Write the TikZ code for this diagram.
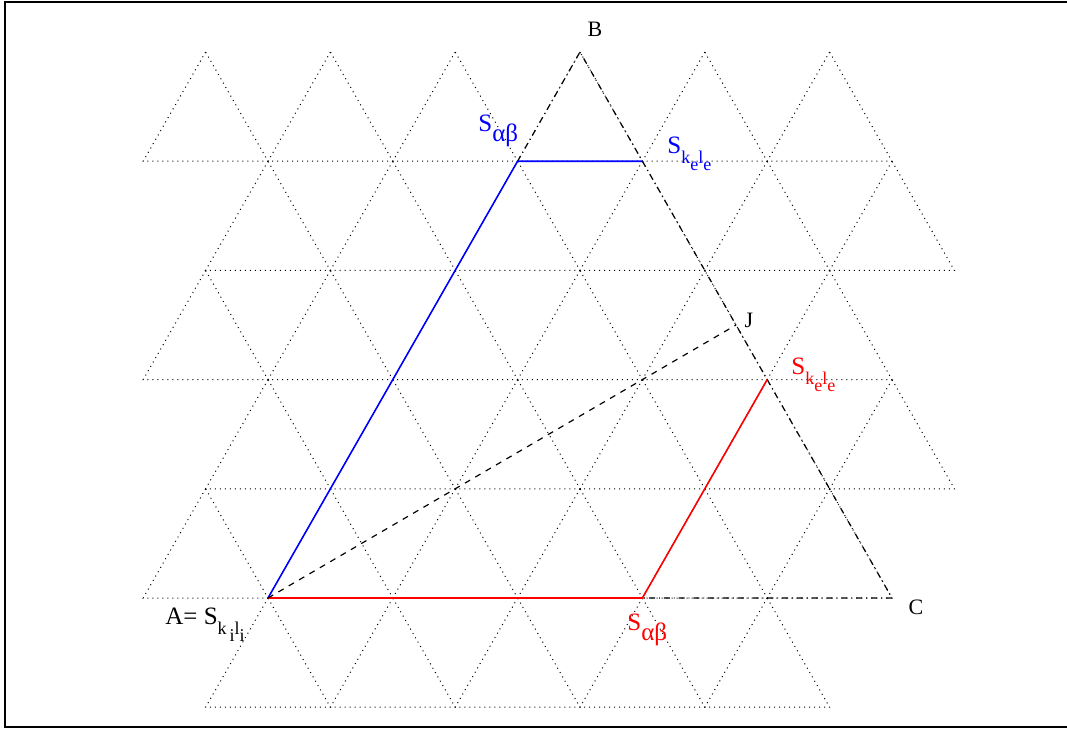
\documentclass[tikz,border=0pt]{standalone}
\usepackage{fontspec}
\setmainfont{Liberation Serif}
\usepackage{tikz}

\newcommand{\dn}[1]{\raisebox{-0.4em}{#1}}

\begin{document}
\begin{tikzpicture}[x=0.5pt, y=-0.5pt,
    grid/.style={dotted, line width=0.5pt},
    bound/.style={dash dot, line width=0.6pt},
    lab/.style={inner sep=0pt, font=\fontsize{12.5}{14}\selectfont},
    pt/.style={inner sep=0pt, font=\fontsize{11}{13}\selectfont}]
% Frame
\useasboundingbox (0,0) rectangle (1067,729);
\draw[line width=1pt] (1067,2) -| (5,727) -- (1067,727);

% Lattice of triangles
\begin{scope}[shift={(268,598)}, x=62.4pt, y=54.6pt]
\foreach \v/\a/\n in {5/-0.5/5, 4/0/5, 3/-0.5/5, 2/0/5, 1/-0.5/5, 0/0/4} {
    \foreach \i in {0,...,\n}
        \draw[grid] (\a+\i,\v) -- ++(-0.5,-1) -- ++(1,0) -- cycle;
}

% Vertices
\coordinate (A) at (0,0);
\coordinate (B) at (2.5,5);
\coordinate (C) at (5,0);
\coordinate (J) at (3.75,2.5);
\coordinate (Sab1) at (2,4);
\coordinate (Ske1) at (3,4);
\coordinate (Sab2) at (3,0);
\coordinate (Ske2) at (4,2);

% Big triangle
\draw[bound] (Sab1) -- (B) -- (C) -- (Sab2);

% Blue and red paths
\draw[blue, line width=0.8pt] (A) -- (Sab1) -- (Ske1);
\draw[red, line width=0.8pt] (A) -- (Sab2) -- (Ske2);
\draw[dashed, line width=0.6pt] (A) -- (J);
\end{scope}

% Labels
\node[pt] (labB) at (595,29) {B};
\node[pt] (labC) at (916,607) {C};
\node[pt] (labJ) at (749,320) {J};
\node[lab, anchor=base west] (labA) at (165,624) {A= S\dn{\small k\,\dn{i}l\dn{i}}};
\node[lab, anchor=base west, text=blue] (labSab1) at (478,131) {S\dn{αβ}};
\node[lab, anchor=base west, text=blue] (labSke1) at (667,153) {S\dn{\small k\dn{e}l\dn{e}}};
\node[lab, anchor=base west, text=red] (labSke2) at (791,374) {S\dn{\small k\dn{e}l\dn{e}}};
\node[lab, anchor=base west, text=red] (labSab2) at (627,630) {S\dn{αβ}};
\end{tikzpicture}
\end{document}
